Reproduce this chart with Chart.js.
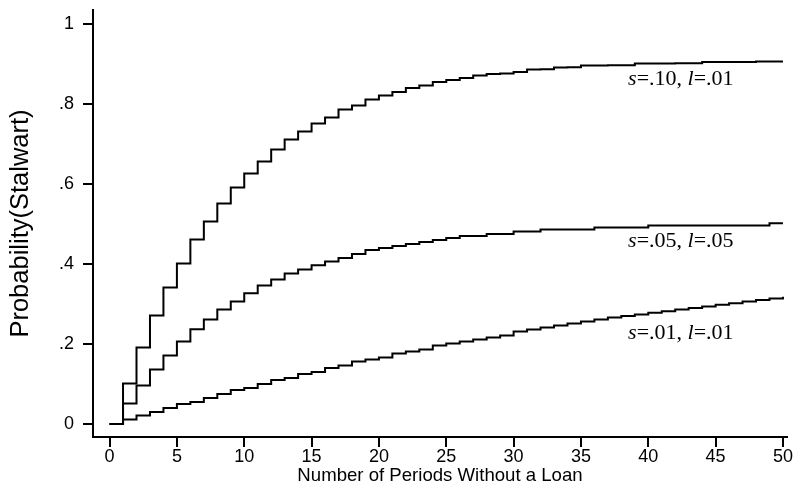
<!DOCTYPE html>
<html>
<head>
<meta charset="utf-8">
<script src="https://cdn.jsdelivr.net/npm/chart.js@4.4.1/dist/chart.umd.min.js"></script>
<style>
  html, body { margin: 0; padding: 0; background: #fff; }
  #wrap { width: 798px; height: 485px; }
</style>
</head>
<body>
<div id="wrap"><canvas id="chart" width="798" height="485"></canvas></div>
<script>
// periods without a loan (x) and probability of being a stalwart (y)
const periods = [
  0, 1, 2, 3, 4, 5, 6, 7, 8, 9, 10, 11, 12, 13, 14, 15, 16, 17, 18, 19, 20,
  21, 22, 23, 24, 25, 26, 27, 28, 29, 30, 31, 32, 33, 34, 35, 36, 37, 38, 39, 40,
  41, 42, 43, 44, 45, 46, 47, 48, 49, 50
];
const highS = [
  0, 0.101, 0.191, 0.271, 0.341, 0.401, 0.461, 0.506, 0.551, 0.591, 0.626,
  0.656, 0.686, 0.711, 0.731, 0.751, 0.766, 0.786, 0.796, 0.811, 0.821,
  0.830, 0.840, 0.846, 0.855, 0.860, 0.865, 0.871, 0.875, 0.876, 0.880,
  0.886, 0.887, 0.891, 0.892, 0.896, 0.896, 0.897, 0.897, 0.901, 0.901,
  0.901, 0.902, 0.902, 0.905, 0.905, 0.905, 0.905, 0.906, 0.906, 0.906
];
const midS = [
  0, 0.051, 0.096, 0.136, 0.171, 0.206, 0.237, 0.261, 0.286, 0.306, 0.327,
  0.346, 0.361, 0.376, 0.386, 0.397, 0.406, 0.415, 0.425, 0.435, 0.440,
  0.445, 0.450, 0.455, 0.460, 0.465, 0.470, 0.470, 0.475, 0.475, 0.481,
  0.481, 0.486, 0.486, 0.486, 0.486, 0.491, 0.491, 0.491, 0.491, 0.496,
  0.496, 0.496, 0.496, 0.496, 0.496, 0.496, 0.496, 0.496, 0.502, 0.502
];
const lowS = [
  0, 0.011, 0.021, 0.030, 0.040, 0.050, 0.055, 0.065, 0.075, 0.085, 0.090,
  0.100, 0.110, 0.115, 0.125, 0.130, 0.140, 0.146, 0.156, 0.161, 0.166,
  0.176, 0.181, 0.186, 0.196, 0.201, 0.206, 0.211, 0.216, 0.221, 0.231,
  0.236, 0.241, 0.246, 0.251, 0.256, 0.261, 0.266, 0.270, 0.274, 0.278,
  0.282, 0.286, 0.290, 0.294, 0.298, 0.302, 0.306, 0.310, 0.314, 0.318
];
const xTicks = [0, 5, 10, 15, 20, 25, 30, 35, 40, 45, 50];
const yTicks = [0, 0.2, 0.4, 0.6, 0.8, 1];
const yTickLabels = ['0', '.2', '.4', '.6', '.8', '1'];
const curveLabels = ['s=.10, l=.01', 's=.05, l=.05', 's=.01, l=.01'];
const curveLabelAnchors = [[38.5, 0.862], [38.5, 0.457], [38.5, 0.228]];

const tickFont = { family: '"Liberation Sans", Arial, sans-serif', size: 18, lineHeight: 20 / 18 };
const xTitleFont = { family: '"Liberation Sans", Arial, sans-serif', size: 18.6, lineHeight: 1 };
const yTitleFont = { family: '"Liberation Sans", Arial, sans-serif', size: 25.5, lineHeight: 1 };

function toPoints(values) {
  return periods.map((p, i) => ({ x: p, y: values[i] }));
}

// horizontal run at each period's value, then a jump at the next period
function stairs(values) {
  return {
    data: toPoints(values),
    borderColor: '#000',
    borderWidth: 2,
    stepped: 'before',
    pointRadius: 0,
    fill: false
  };
}

// let layout.padding alone decide the plot edges
function noLabelPadding(scale) {
  scale.paddingTop = 0;
  scale.paddingBottom = 0;
  scale.paddingLeft = 0;
  scale.paddingRight = 0;
}

const curveLabelPlugin = {
  id: 'curveLabels',
  afterDatasetsDraw(chart) {
    const { ctx, scales: { x, y } } = chart;
    ctx.save();
    ctx.fillStyle = '#000';
    ctx.textBaseline = 'middle';
    ctx.textAlign = 'left';
    curveLabels.forEach((text, i) => {
      let px = x.getPixelForValue(curveLabelAnchors[i][0]);
      const py = y.getPixelForValue(curveLabelAnchors[i][1]);
      // the parameter letters are set in italics
      text.split(/([sl](?==))/).filter(Boolean).forEach((part) => {
        const italic = /^[sl]$/.test(part);
        ctx.font = `${italic ? 'italic ' : ''}22px "Liberation Serif", "Times New Roman", serif`;
        ctx.fillText(part, px, py);
        px += ctx.measureText(part).width;
      });
    });
    ctx.restore();
  }
};

new Chart(document.getElementById('chart'), {
  type: 'line',
  data: { datasets: [stairs(highS), stairs(midS), stairs(lowS)] },
  options: {
    responsive: false,
    animation: false,
    devicePixelRatio: 1,
    layout: { padding: { top: 10, right: 11, left: 0, bottom: 0 } },
    plugins: { legend: { display: false }, tooltip: { enabled: false } },
    scales: {
      x: {
        type: 'linear',
        min: -1.23,
        max: 50.3,
        afterBuildTicks(scale) { scale.ticks = xTicks.map((v) => ({ value: v })); },
        afterFit(scale) { scale.height = 48; noLabelPadding(scale); },
        border: { display: true, color: '#000', width: 2 },
        grid: { drawOnChartArea: false, drawTicks: true, tickLength: 10, color: '#000', lineWidth: 2 },
        ticks: { color: '#000', font: tickFont, padding: 0, maxRotation: 0, autoSkip: false, callback: (v) => String(v) },
        title: { display: true, text: 'Number of Periods Without a Loan', color: '#000', font: xTitleFont, padding: { top: 0, bottom: 0 } }
      },
      y: {
        type: 'linear',
        min: -0.0325,
        max: 1.035,
        afterBuildTicks(scale) { scale.ticks = yTicks.map((v) => ({ value: v })); },
        afterFit(scale) { scale.width = 93; noLabelPadding(scale); },
        border: { display: true, color: '#000', width: 2 },
        grid: { drawOnChartArea: false, drawTicks: true, tickLength: 10, color: '#000', lineWidth: 2 },
        ticks: {
          color: '#000',
          font: tickFont,
          padding: 9,
          autoSkip: false,
          callback: (v) => yTickLabels[yTicks.findIndex((t) => Math.abs(t - v) < 1e-9)] ?? ''
        },
        title: { display: true, text: 'Probability(Stalwart)', color: '#000', font: yTitleFont, padding: { top: 8, bottom: 0 } }
      }
    }
  },
  plugins: [curveLabelPlugin]
});
</script>
</body>
</html>
